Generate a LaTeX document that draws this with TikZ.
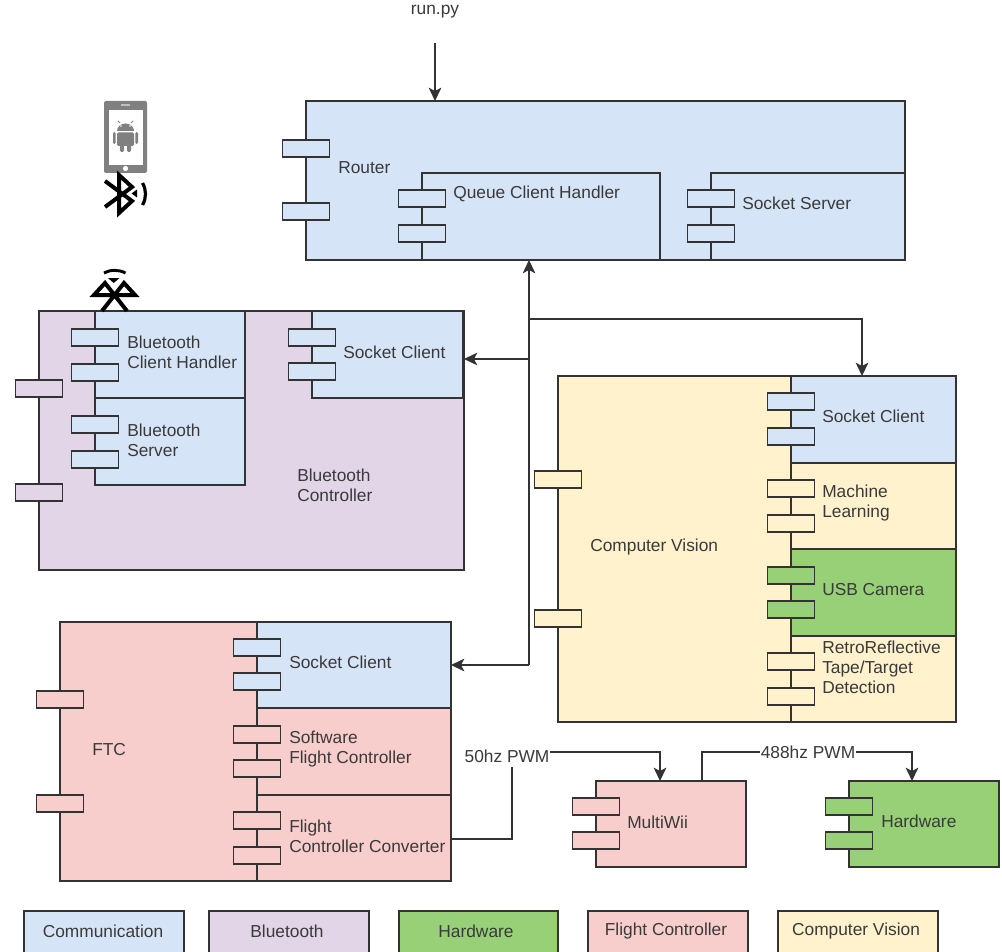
\documentclass[tikz,border=0pt]{standalone}
\usepackage{fontspec}
\setmainfont{Liberation Sans}
\usetikzlibrary{arrows.meta}
\definecolor{comm}{HTML}{D6E4F7}
\definecolor{btc}{HTML}{E1D5E7}
\definecolor{hwc}{HTML}{97D077}
\definecolor{fcc}{HTML}{F8CECC}
\definecolor{cvc}{HTML}{FFF2CC}
\definecolor{ink}{HTML}{333333}
\definecolor{txt}{HTML}{3A3A3A}
\definecolor{icon}{HTML}{808080}
\tikzset{
  box/.style={draw=ink,line width=0.85pt,anchor=north west,inner sep=0pt,outer sep=0pt},
  portbox/.style={draw=ink,line width=0.85pt,anchor=center,inner sep=0pt,outer sep=0pt,minimum width={47*0.75pt},minimum height={17*0.75pt}},
  lab/.style={anchor=west,inner sep=0pt,align=left,text=txt,font=\fontsize{13}{15}\selectfont},
  clab/.style={anchor=center,inner sep=0pt,align=center,text=txt,font=\fontsize{13}{15}\selectfont},
  wire/.style={draw=ink,line width=0.95pt},
  arr/.style={wire,-{Stealth[length=10pt,width=9.5pt,inset=2.5pt]}},
  blue/.style={draw=black,line width=3pt,line join=miter,fill=none}
}
\newcommand{\comp}[8]{%
  \node[box,fill=#6,minimum width={(#4-#2)*0.75pt},minimum height={(#5-#3)*0.75pt}] (#1) at (#2,#3) {};
  \node[portbox,fill=#6] (#1-p1) at (#2,#7) {};
  \node[portbox,fill=#6] (#1-p2) at (#2,#8) {};
}
\begin{document}
\begin{tikzpicture}[x=0.75pt,y=-0.75pt]
\useasboundingbox (0,0) rectangle (1002,952);
\fill[white] (0,0) rectangle (1002,952);
\clip (0,0) rectangle (1002,952);

% Router
\comp{router}{306}{101}{905}{260}{comm}{148.5}{211.5}
\comp{queue}{422}{173}{660}{260}{comm}{198.5}{233.5}
\comp{sserver}{711}{173}{905}{260}{comm}{198.5}{233.5}
\node[lab] (lrouter) at (338,168) {Router};
\node[lab] (lqueue) at (453,194) {Queue Client Handler};
\node[lab] (lsserver) at (742,203) {Socket Server};

% Bluetooth controller
\comp{bt}{39}{311}{464}{570}{btc}{388.5}{492.5}
\comp{bthand}{95}{311}{245}{398}{comm}{337.5}{372.5}
\comp{btserv}{95}{398}{245}{485}{comm}{424.5}{459.5}
\comp{btsock}{312}{311}{463}{398}{comm}{337.5}{371.5}
\node[lab] (lbthand) at (127,352) {Bluetooth\\Client Handler};
\node[lab] (lbtserv) at (127,440) {Bluetooth\\Server};
\node[lab] (lbtsock) at (343,352) {Socket Client};
\node[lab] (lbt) at (297,485) {Bluetooth\\Controller};

% Computer vision
\comp{cv}{558}{376}{956}{722}{cvc}{479.5}{618.5}
\comp{cvsock}{791}{376}{956}{463}{comm}{401.5}{436.5}
\comp{cvml}{791}{463}{956}{549}{cvc}{488.5}{523.5}
\comp{cvusb}{791}{549}{956}{636}{hwc}{575.5}{609.5}
\comp{cvret}{791}{636}{956}{722}{cvc}{661.5}{696.5}
\node[lab] (lcv) at (590,547) {Computer Vision};
\node[lab] (lcvsock) at (822,416) {Socket Client};
\node[lab] (lcvml) at (822,503) {Machine\\Learning};
\node[lab] (lcvusb) at (822,590) {USB Camera};
\node[lab] (lcvret) at (822,667) {RetroReflective\\Tape/Target\\Detection};

% FTC
\comp{ftc}{60}{622}{451}{881}{fcc}{699.5}{803.5}
\comp{ftcsock}{257}{622}{451}{708}{comm}{647.5}{681.5}
\comp{ftcsw}{257}{708}{451}{795}{fcc}{734.5}{768.5}
\comp{ftcconv}{257}{795}{451}{881}{fcc}{820.5}{855.5}
\node[lab] (lftc) at (92,750) {FTC};
\node[lab] (lftcsock) at (289,662) {Socket Client};
\node[lab] (lftcsw) at (289,749) {Software\\Flight Controller};
\node[lab] (lftcconv) at (289,836) {Flight\\Controller Converter};

% MultiWii, Hardware
\comp{mw}{596}{781}{746}{867}{fcc}{806.5}{840.5}
\comp{hw}{849}{781}{999}{867}{hwc}{806.5}{840.5}
\node[lab] (lmw) at (627,822) {MultiWii};
\node[lab] (lhw) at (881,821) {Hardware};

% connectors
\node[clab] (runpy) at (435,12) {run.py};
\coordinate (runstart) at (435,43);
\draw[arr] (runstart) -- (runstart |- router.north);

\coordinate (busbase) at (529,665);
\coordinate (btj) at (529,359);
\coordinate (cvj) at (529,319);
\coordinate (cvturn) at (862,319);
\draw[arr] (busbase) -- (busbase |- router.south);
\draw[arr] (busbase) -- (busbase -| ftc.east);
\draw[arr] (btj) -- (btj -| bt.east);
\draw[arr] (cvj) -- (cvturn) -- (cvturn |- cv.north);

\node[clab,inner ysep=3pt,inner xsep=0.5pt] (pwm50) at (507,756) {50hz PWM};
\coordinate (a1) at (512,839);
\coordinate (a3) at (660,752);
\draw[wire] (a1 -| ftcconv.east) -- (a1) -- (a1 |- pwm50.south);
\draw[arr] (pwm50.east |- a3) -- (a3) -- (a3 |- mw.north);

\coordinate (b1) at (702,752);
\coordinate (b2) at (912,752);
\node[clab,inner xsep=0.5pt] (pwm488) at (808,752) {488hz PWM};
\draw[wire] (b1 |- mw.north) -- (b1) -- (pwm488.west);
\draw[arr] (pwm488.east) -- (b2) -- (b2 |- hw.north);

% thicker top and right edges near the Bluetooth client handler and socket
\draw[draw=ink,line width=1.5pt] (btsock.north east) -- (btsock.south east);
\draw[draw=ink,line width=1.5pt] (bthand.north west) -- (bthand.north east);

% legend
\tikzset{legendbox/.style={box,minimum height={60*0.75pt}}}
\node[legendbox,fill=comm,minimum width={160*0.75pt}] (k1) at (24,911) {};
\node[legendbox,fill=btc,minimum width={160*0.75pt}] (k2) at (209,911) {};
\node[legendbox,fill=hwc,minimum width={159*0.75pt}] (k3) at (399,911) {};
\node[legendbox,fill=fcc,minimum width={160*0.75pt}] (k4) at (588,911) {};
\node[legendbox,fill=cvc,minimum width={160*0.75pt}] (k5) at (778,911) {};
\node[clab] (lk1) at (103,931) {Communication};
\node[clab] (lk2) at (287,931) {Bluetooth};
\node[clab] (lk3) at (476,931) {Hardware};
\node[clab] (lk4) at (666,931) {Flight Controller};
\node[clab] (lk5) at (856,931) {Computer Vision};

% phone icon
\fill[icon,rounded corners=1.5pt] (104,101) rectangle (147,173);
\fill[white] (109,110) rectangle (143,165);
\fill[white] (125.5,168.5) circle (2.6);
\fill[icon!50!white] (121,104) rectangle (130,105.6);
% android robot
\fill[icon] (117,131) arc[start angle=180,end angle=0,x radius=8.5,y radius=-7.5] -- cycle;
\fill[white] (121,126) circle (0.9) (130,126) circle (0.9);
\draw[icon,line width=0.7pt] (120,123) -- (118,121) (131,123) -- (133,121);
\fill[icon,rounded corners=1pt] (117,132.5) rectangle (134,146);
\fill[icon,rounded corners=1pt] (113,132) rectangle (115.6,144);
\fill[icon,rounded corners=1pt] (135.4,132) rectangle (138,144);
\fill[icon,rounded corners=1pt] (120,145) rectangle (124,152);
\fill[icon,rounded corners=1pt] (127,145) rectangle (131,152);

% bluetooth icon 1
\draw[blue] (105,207) -- (132,187) -- (119,175) -- (119,213) -- (132,201) -- (105,181);
\fill[black] (137,189.5) -- (137,197.5) -- (131.5,193.5) -- cycle;
\draw[black,line width=2.4pt] (142.5,183) .. controls (146.5,190) and (146.5,198) .. (142.5,205);

% bluetooth icon 2
\draw[blue] (102,311) -- (124,283) -- (135,295) -- (94,295) -- (105,283) -- (127,311);
\fill[black] (108,278) -- (119.5,278) -- (113.7,283) -- cycle;
\draw[black,line width=2.2pt] (104,273) .. controls (110,269.5) and (119,269.5) .. (125.5,273);
\end{tikzpicture}
\end{document}
